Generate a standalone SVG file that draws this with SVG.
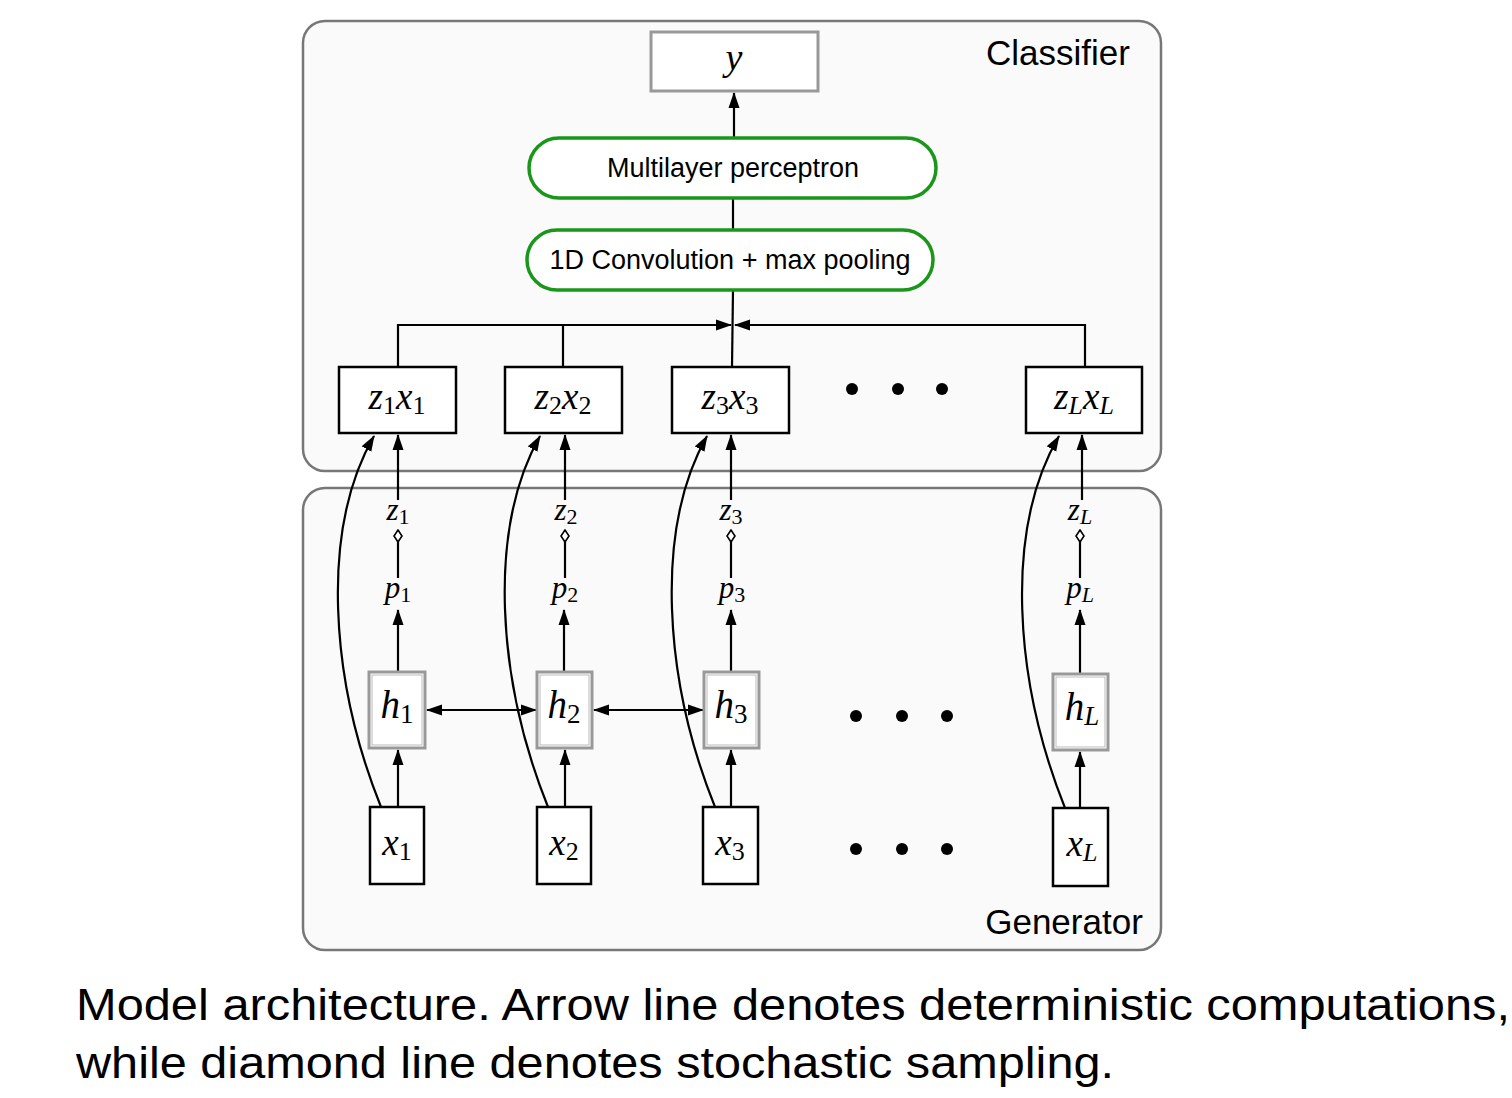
<svg xmlns="http://www.w3.org/2000/svg" width="1512" height="1098" viewBox="0 0 1512 1098">
<defs>
<marker id="arr" viewBox="0 0 16 12" refX="15" refY="6" markerWidth="16" markerHeight="12" markerUnits="userSpaceOnUse" orient="auto-start-reverse"><path d="M0,0.5 L16,6 L0,11.5 z" fill="#000"/></marker>
<marker id="dia" viewBox="0 0 14 10" refX="13" refY="5" markerWidth="14" markerHeight="10" markerUnits="userSpaceOnUse" orient="auto"><path d="M1,5 L7,1 L13,5 L7,9 z" fill="#fff" stroke="#000" stroke-width="1.6"/></marker>
</defs>
<style>
.panel{fill:#fafafa;stroke:#777;stroke-width:2.5}
.box{fill:#fff;stroke:#000;stroke-width:2.5}
.gbox{fill:#fff;stroke:#999;stroke-width:3}
.gin{fill:none;stroke:#bbb;stroke-width:1}
.green{fill:#fff;stroke:#1a961a;stroke-width:3.5}
.sans{font-family:"Liberation Sans",Arial,sans-serif;fill:#000}
.m{font-family:"Liberation Serif","Times New Roman",serif;font-style:italic;fill:#000}
.sub{font-style:normal}
.c{fill:none;stroke:#000;stroke-width:2.2}
.dot{fill:#000}
</style>
<rect width="1512" height="1098" fill="#fff"/>
<g id="classifier-panel"><rect class="panel" x="303" y="21" width="858" height="450" rx="22"/><text class="sans" x="1058" y="65" font-size="35" text-anchor="middle">Classifier</text></g>
<g id="generator-panel"><rect class="panel" x="303" y="488" width="858" height="462" rx="22"/><text class="sans" x="1064" y="934" font-size="35" text-anchor="middle">Generator</text></g>

<g id="connectors">
<line class="c" x1="734" y1="138" x2="734" y2="93" marker-end="url(#arr)"/>
<line class="c" x1="733" y1="230" x2="733" y2="198"/>
<line class="c" x1="733" y1="290" x2="732" y2="367"/>
<polyline class="c" points="398,367 398,325 731,325" marker-end="url(#arr)"/>
<line class="c" x1="563" y1="367" x2="563" y2="325"/>
<polyline class="c" points="1085,367 1085,325 735,325" marker-end="url(#arr)"/>

<line class="c" x1="398" y1="500" x2="398" y2="435" marker-end="url(#arr)"/>
<line class="c" x1="565" y1="500" x2="565" y2="435" marker-end="url(#arr)"/>
<line class="c" x1="731" y1="500" x2="731" y2="435" marker-end="url(#arr)"/>
<line class="c" x1="1082" y1="500" x2="1082" y2="435" marker-end="url(#arr)"/>

<line class="c" x1="398" y1="578" x2="398" y2="530" marker-end="url(#dia)"/>
<line class="c" x1="565" y1="578" x2="565" y2="530" marker-end="url(#dia)"/>
<line class="c" x1="731" y1="578" x2="731" y2="530" marker-end="url(#dia)"/>
<line class="c" x1="1080" y1="578" x2="1080" y2="530" marker-end="url(#dia)"/>

<line class="c" x1="398" y1="672" x2="398" y2="610" marker-end="url(#arr)"/>
<line class="c" x1="564" y1="672" x2="564" y2="610" marker-end="url(#arr)"/>
<line class="c" x1="731" y1="672" x2="731" y2="610" marker-end="url(#arr)"/>
<line class="c" x1="1080" y1="674" x2="1080" y2="610" marker-end="url(#arr)"/>

<line class="c" x1="398" y1="807" x2="398" y2="750" marker-end="url(#arr)"/>
<line class="c" x1="565" y1="807" x2="565" y2="750" marker-end="url(#arr)"/>
<line class="c" x1="731" y1="807" x2="731" y2="750" marker-end="url(#arr)"/>
<line class="c" x1="1080" y1="808" x2="1080" y2="752" marker-end="url(#arr)"/>

<line class="c" x1="427" y1="710" x2="536" y2="710" marker-start="url(#arr)" marker-end="url(#arr)"/>
<line class="c" x1="594" y1="710" x2="703" y2="710" marker-start="url(#arr)" marker-end="url(#arr)"/>

<path class="c" d="M381,807 C330,680 320,530 374,436" marker-end="url(#arr)"/>
<path class="c" d="M548,807 C497,680 487,530 540,436" marker-end="url(#arr)"/>
<path class="c" d="M715,807 C664,680 654,530 707,436" marker-end="url(#arr)"/>
<path class="c" d="M1065,808 C1014,680 1004,530 1059,436" marker-end="url(#arr)"/>
</g>

<g id="node-y"><rect class="gbox" x="651" y="32" width="167" height="59"/><text class="m" x="734" y="70" font-size="38" text-anchor="middle">y</text></g>
<g id="node-mlp"><rect class="green" x="529" y="138" width="407" height="60" rx="30"/><text class="sans" x="733" y="177" font-size="27" text-anchor="middle">Multilayer perceptron</text></g>
<g id="node-conv"><rect class="green" x="527" y="230" width="406" height="60" rx="30"/><text class="sans" x="730" y="269" font-size="27" text-anchor="middle">1D Convolution + max pooling</text></g>

<g id="node-z1x1"><rect class="box" x="339" y="367" width="117" height="66"/><text class="m" x="397" y="409" font-size="37" text-anchor="middle">z<tspan class="sub" font-size="26" dy="5">1</tspan><tspan dy="-5">x</tspan><tspan class="sub" font-size="26" dy="5">1</tspan></text></g>
<g id="node-z2x2"><rect class="box" x="505" y="367" width="117" height="66"/><text class="m" x="563" y="409" font-size="37" text-anchor="middle">z<tspan class="sub" font-size="26" dy="5">2</tspan><tspan dy="-5">x</tspan><tspan class="sub" font-size="26" dy="5">2</tspan></text></g>
<g id="node-z3x3"><rect class="box" x="672" y="367" width="117" height="66"/><text class="m" x="730" y="409" font-size="37" text-anchor="middle">z<tspan class="sub" font-size="26" dy="5">3</tspan><tspan dy="-5">x</tspan><tspan class="sub" font-size="26" dy="5">3</tspan></text></g>
<g id="node-zLxL"><rect class="box" x="1026" y="367" width="116" height="66"/><text class="m" x="1084" y="409" font-size="37" text-anchor="middle">z<tspan font-size="26" dy="5">L</tspan><tspan dy="-5">x</tspan><tspan font-size="26" dy="5">L</tspan></text></g>
<g id="dots-top"><circle class="dot" cx="852" cy="389" r="6"/><circle class="dot" cx="898" cy="389" r="6"/><circle class="dot" cx="942" cy="389" r="6"/></g>

<g id="label-z1"><text class="m" x="398" y="520" font-size="31" text-anchor="middle">z<tspan class="sub" font-size="22" dy="4">1</tspan></text></g>
<g id="label-z2"><text class="m" x="566" y="520" font-size="31" text-anchor="middle">z<tspan class="sub" font-size="22" dy="4">2</tspan></text></g>
<g id="label-z3"><text class="m" x="731" y="520" font-size="31" text-anchor="middle">z<tspan class="sub" font-size="22" dy="4">3</tspan></text></g>
<g id="label-zL"><text class="m" x="1080" y="520" font-size="31" text-anchor="middle">z<tspan font-size="22" dy="4">L</tspan></text></g>
<g id="label-p1"><text class="m" x="398" y="598" font-size="31" text-anchor="middle">p<tspan class="sub" font-size="22" dy="4">1</tspan></text></g>
<g id="label-p2"><text class="m" x="565" y="598" font-size="31" text-anchor="middle">p<tspan class="sub" font-size="22" dy="4">2</tspan></text></g>
<g id="label-p3"><text class="m" x="732" y="598" font-size="31" text-anchor="middle">p<tspan class="sub" font-size="22" dy="4">3</tspan></text></g>
<g id="label-pL"><text class="m" x="1080" y="598" font-size="31" text-anchor="middle">p<tspan font-size="22" dy="4">L</tspan></text></g>

<g id="node-h1"><rect class="gbox" x="369" y="672" width="56" height="76"/><rect class="gin" x="372" y="675" width="50" height="70"/><text class="m" x="397" y="718" font-size="39" text-anchor="middle">h<tspan class="sub" font-size="27" dy="5">1</tspan></text></g>
<g id="node-h2"><rect class="gbox" x="537" y="672" width="55" height="76"/><rect class="gin" x="540" y="675" width="49" height="70"/><text class="m" x="564" y="718" font-size="39" text-anchor="middle">h<tspan class="sub" font-size="27" dy="5">2</tspan></text></g>
<g id="node-h3"><rect class="gbox" x="704" y="672" width="55" height="76"/><rect class="gin" x="707" y="675" width="49" height="70"/><text class="m" x="731" y="718" font-size="39" text-anchor="middle">h<tspan class="sub" font-size="27" dy="5">3</tspan></text></g>
<g id="node-hL"><rect class="gbox" x="1053" y="674" width="55" height="76"/><rect class="gin" x="1056" y="677" width="49" height="70"/><text class="m" x="1082" y="720" font-size="39" text-anchor="middle">h<tspan font-size="27" dy="5">L</tspan></text></g>
<g id="dots-mid"><circle class="dot" cx="856" cy="716" r="6"/><circle class="dot" cx="902" cy="716" r="6"/><circle class="dot" cx="947" cy="716" r="6"/></g>

<g id="node-x1"><rect class="box" x="370" y="807" width="54" height="77"/><text class="m" x="397" y="855" font-size="37" text-anchor="middle">x<tspan class="sub" font-size="26" dy="5">1</tspan></text></g>
<g id="node-x2"><rect class="box" x="537" y="807" width="54" height="77"/><text class="m" x="564" y="855" font-size="37" text-anchor="middle">x<tspan class="sub" font-size="26" dy="5">2</tspan></text></g>
<g id="node-x3"><rect class="box" x="703" y="807" width="55" height="77"/><text class="m" x="730" y="855" font-size="37" text-anchor="middle">x<tspan class="sub" font-size="26" dy="5">3</tspan></text></g>
<g id="node-xL"><rect class="box" x="1053" y="808" width="55" height="78"/><text class="m" x="1082" y="856" font-size="37" text-anchor="middle">x<tspan font-size="26" dy="5">L</tspan></text></g>
<g id="dots-bottom"><circle class="dot" cx="856" cy="849" r="6"/><circle class="dot" cx="902" cy="849" r="6"/><circle class="dot" cx="947" cy="849" r="6"/></g>

<g id="caption"><text class="sans" x="76" y="1020" font-size="45" textLength="1434" lengthAdjust="spacingAndGlyphs">Model architecture. Arrow line denotes deterministic computations,</text><text class="sans" x="76" y="1078" font-size="45" textLength="1038" lengthAdjust="spacingAndGlyphs">while diamond line denotes stochastic sampling.</text></g>
</svg>
